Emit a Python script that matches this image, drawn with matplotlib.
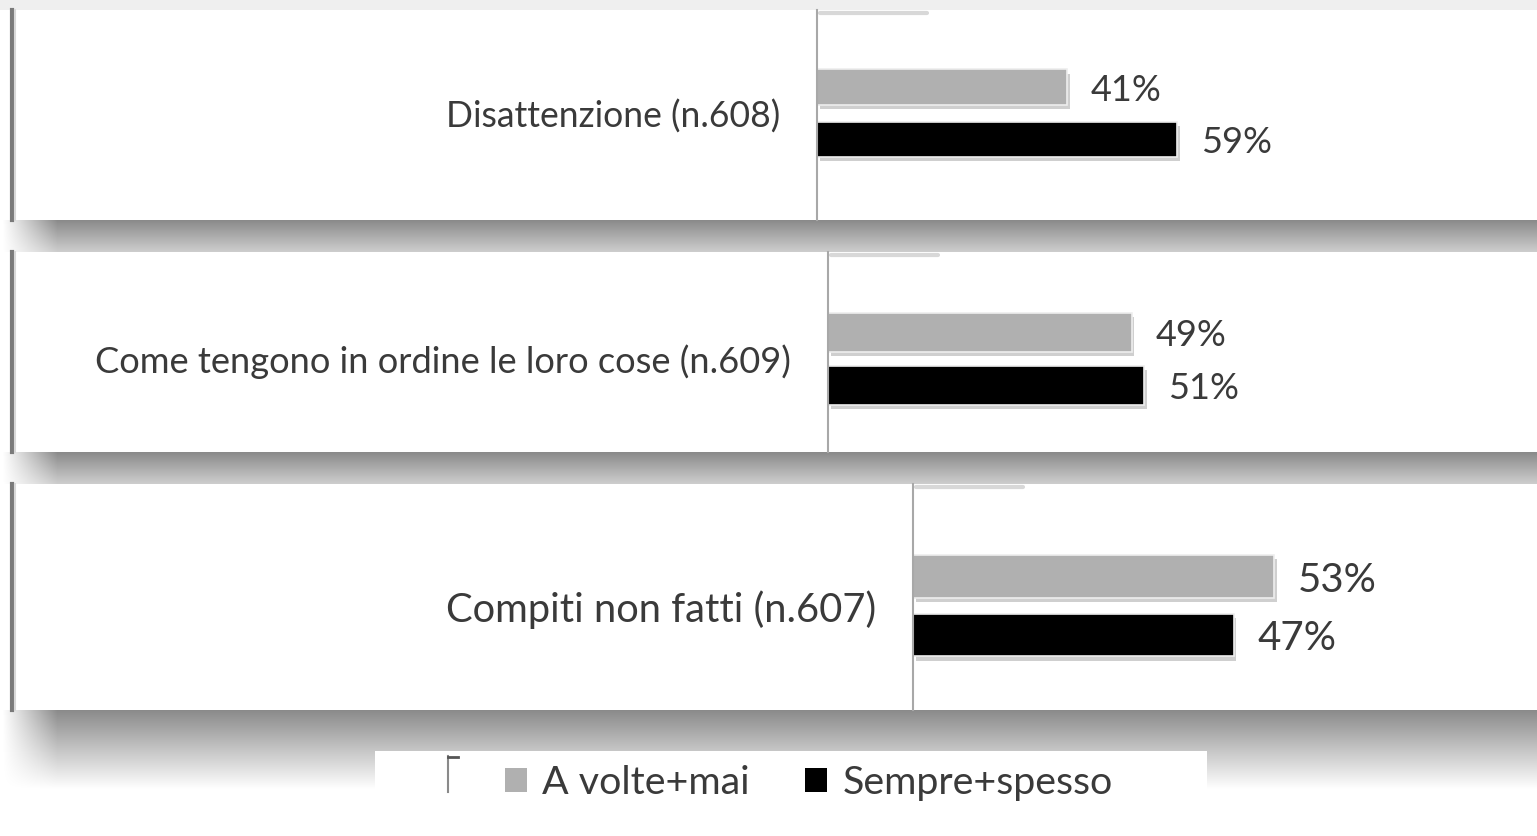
import numpy as np
import matplotlib
matplotlib.use("Agg")
import matplotlib.pyplot as plt
from matplotlib.patches import Rectangle
import matplotlib.patheffects as pe

# ---------------- data ----------------
categories = ["Disattenzione (n.608)",
              "Come tengono in ordine le loro cose (n.609)",
              "Compiti non fatti (n.607)"]
a_volte_mai = [41, 49, 53]
sempre_spesso = [59, 51, 47]
series_names = ["A volte+mai", "Sempre+spesso"]

# ---------------- style / layout ----------------
W, H = 1537, 836
DPI = 100
FONT = ["Lato", "DejaVu Sans"]
TXT = "#3a3a3a"
GRAY = "#b0b0b0"
BLACK = "#000000"
plt.rcParams["font.family"] = FONT

# per panel: top px, bottom px, axis x px, xmax (data), ylim, bar height, label sizes
panels = [
    dict(top=10, bot=220, ax_x=817, xmax=118.0, ylim=(-1.55, 2.48), bh=0.68, fs=25.6, vfs=26),
    dict(top=252, bot=452, ax_x=828, xmax=114.4, ylim=(-1.25, 2.52), bh=0.74, fs=26.1, vfs=26),
    dict(top=484, bot=710, ax_x=913, xmax=91.5, ylim=(-1.28, 2.58), bh=0.73, fs=28.7, vfs=29),
]

fig = plt.figure(figsize=(W / DPI, H / DPI), dpi=DPI)
fig.patch.set_facecolor("white")

# background decoration axes in pixel coordinates
bg = fig.add_axes([0, 0, 1, 1], zorder=-10)
bg.set_xlim(0, W)
bg.set_ylim(H, 0)
bg.axis("off")

bg.add_patch(Rectangle((0, 0), W, 10, color="#efefef", lw=0, zorder=0))


def shadow(y0, h, a0, a1, zorder=1):
    ny = int(h)
    nx = W
    va = np.linspace(a0, a1, ny)[:, None]
    xs = np.arange(nx)
    ha = np.clip((xs - 2) / 55.0, 0, 1)[None, :]
    alpha = va * ha
    img = np.zeros((ny, nx, 4))
    img[..., 3] = alpha
    bg.imshow(img, extent=[0, W, y0 + h, y0], interpolation="bilinear",
              aspect="auto", zorder=zorder)


shadow(220, 32, 0.46, 0.20)
shadow(452, 32, 0.46, 0.20)
shadow(710, 80, 0.46, 0.0)

# legend white box
bg.add_patch(Rectangle((375, 751), 1207 - 375, H - 751, color="white", lw=0, zorder=3))
bg.plot([448, 448], [756, 792], color="#8a8a8a", lw=1.5, zorder=4)
bg.plot([448, 458], [757, 757], color="#555555", lw=2, zorder=4)

for p in panels:
    bg.add_patch(Rectangle((10, p["top"]), W - 10, p["bot"] - p["top"],
                           facecolor="white", lw=0, zorder=2))
    bg.plot([11.5, 11.5], [p["top"], p["bot"]], color="#7a7a7a", lw=3, zorder=3)
    bg.plot([14.5, 14.5], [p["top"], p["bot"]], color="#d8d8d8", lw=1.5, zorder=3)
    # faint top shading near axis line
    bg.plot([p["ax_x"] + 3, p["ax_x"] + 110], [p["top"] + 3, p["top"] + 3],
            color="#c8c8c8", lw=3, alpha=0.7, solid_capstyle="round", zorder=3)

# ---------------- bar panels ----------------
legend_handles = []
for i, p in enumerate(panels):
    left = p["ax_x"] / W
    bottom = 1 - p["bot"] / H
    width = (W - p["ax_x"]) / W
    height = (p["bot"] - p["top"]) / H
    ax = fig.add_axes([left, bottom, width, height])
    ax.set_facecolor("none")
    ax.set_xlim(0, p["xmax"])
    ax.set_ylim(*p["ylim"])
    shadow_fx = [pe.SimplePatchShadow(offset=(2, -3), shadow_rgbFace="#777777", alpha=0.35),
                 pe.Normal()]
    ax.barh([1], [a_volte_mai[i]], height=p["bh"], color=GRAY,
            edgecolor="#eeeeee", linewidth=1.2, path_effects=shadow_fx)
    ax.barh([0], [sempre_spesso[i]], height=p["bh"], color=BLACK,
            edgecolor="#eeeeee", linewidth=1.2, path_effects=shadow_fx)
    for yv, val in [(1, a_volte_mai[i]), (0, sempre_spesso[i])]:
        ax.annotate(f"{val}%", xy=(val, yv), xytext=(17, 0), textcoords="offset points",
                    ha="left", va="center_baseline", fontsize=p["vfs"], color=TXT)
    for s in ["top", "right", "bottom"]:
        ax.spines[s].set_visible(False)
    ax.spines["left"].set_color("#a8a8a8")
    ax.spines["left"].set_linewidth(1.5)
    ax.set_xticks([])
    ax.set_yticks([0.5])
    ax.set_yticklabels([categories[i]], fontsize=p["fs"], color=TXT)
    ax.tick_params(axis="y", length=0, pad=26.5)

legend_handles = [Rectangle((0, 0), 1, 1, facecolor=GRAY, edgecolor="none"),
                  Rectangle((0, 0), 1, 1, facecolor=BLACK, edgecolor="none")]
fig.legend(legend_handles, series_names, loc="center",
           bbox_to_anchor=(809 / W, 1 - 783 / H), ncol=2, frameon=False,
           fontsize=28.4, handlelength=0.55, handleheight=0.55,
           handletextpad=0.4, columnspacing=1.4, labelcolor=TXT)

fig.savefig("out.png", dpi=DPI, facecolor="white")
